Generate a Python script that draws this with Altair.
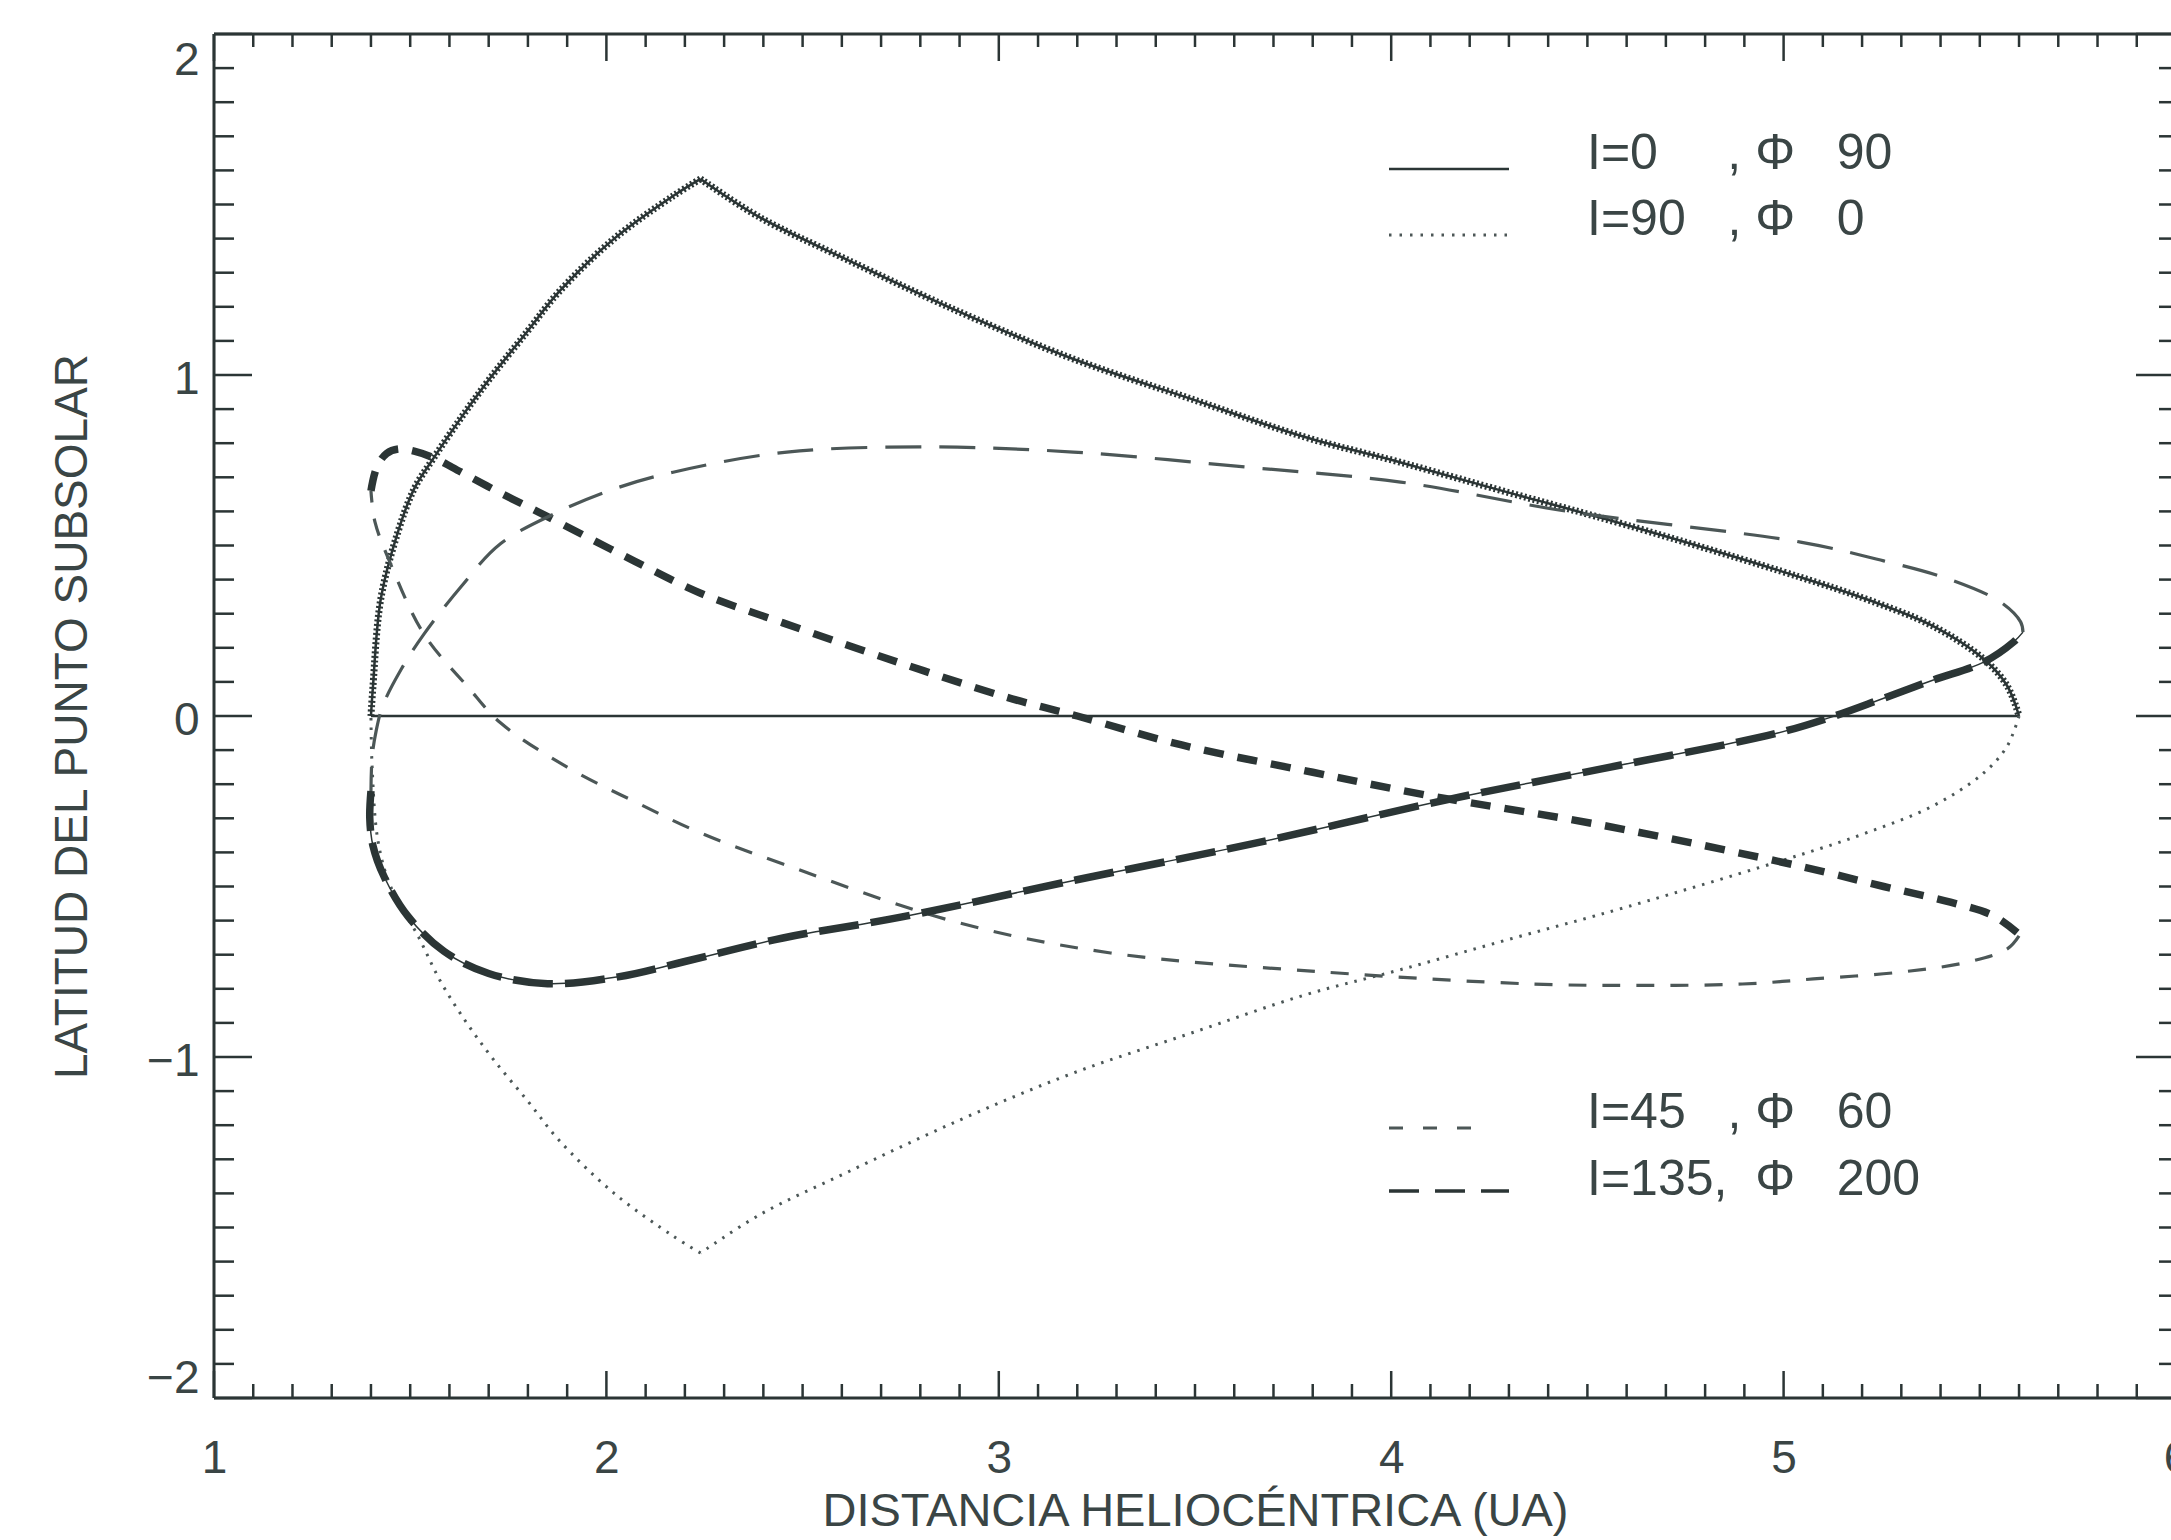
import altair as alt
import pandas as pd

NB = "\u00a0"  # non-collapsing space for legend text alignment

# ---------------------------------------------------------------- text
X_TITLE = "DISTANCIA HELIOCÉNTRICA (UA)"
Y_TITLE = "LATITUD DEL PUNTO SUBSOLAR"
X_LABELS = [1, 2, 3, 4, 5, 6]
Y_LABELS = [-2, -1, 0, 1, 2]
LEGEND_LABELS = [
    "I=0" + NB * 5 + "," + NB + "Φ" + NB * 3 + "90",
    "I=90" + NB * 3 + "," + NB + "Φ" + NB * 3 + "0",
    "I=45" + NB * 3 + "," + NB + "Φ" + NB * 3 + "60",
    "I=135," + NB * 2 + "Φ" + NB * 3 + "200",
]

# ---------------------------------------------------------------- curves
# I=0, Φ=90
I0_X = [1.40, 5.60]
I0_Y = [0.0, 0.0]

# I=90, Φ=0 : first half of the orbit (heavy), up to the cusp and back down
I90_A_X = [1.40, 1.405, 1.425, 1.468, 1.51, 1.56, 1.63, 1.70, 1.80, 1.88, 2.02, 2.17, 2.24]
I90_A_Y = [0.0, 0.085, 0.343, 0.537, 0.666, 0.757, 0.875, 0.985, 1.13, 1.245, 1.40, 1.525, 1.575]
I90_B_X = [2.24, 2.39, 2.61, 2.90, 3.19, 3.49, 3.78, 4.02, 4.30, 4.60, 5.04, 5.21, 5.38, 5.51, 5.57, 5.60]
I90_B_Y = [1.575, 1.463, 1.34, 1.185, 1.047, 0.93, 0.818, 0.745, 0.655, 0.56, 0.408, 0.343, 0.264, 0.167, 0.088, 0.0]
# I=90, Φ=0 : second half (light dots)
I90_C_X = [5.60, 5.57, 5.51, 5.38, 5.21, 5.04, 4.60, 4.30, 4.02, 3.78, 3.49, 3.19, 2.90, 2.61, 2.39, 2.24]
I90_C_Y = [0.0, -0.088, -0.167, -0.264, -0.343, -0.408, -0.56, -0.655, -0.745, -0.818, -0.93, -1.047, -1.185, -1.34, -1.463, -1.575]
I90_D_X = [2.24, 2.17, 2.02, 1.88, 1.80, 1.714, 1.647, 1.578, 1.52, 1.45, 1.418, 1.403, 1.40]
I90_D_Y = [-1.575, -1.525, -1.40, -1.245, -1.13, -1.01, -0.905, -0.78, -0.645, -0.50, -0.367, -0.15, 0.0]

# I=45, Φ=60
I45_A_X = [1.40, 1.415, 1.44, 1.47, 1.51, 1.56, 1.63, 1.72, 1.815, 1.90, 2.07, 2.24, 2.45, 2.75,
           3.02, 3.20, 3.466, 3.80, 4.09, 4.536, 5.04, 5.255, 5.425, 5.535, 5.60]
I45_A_Y = [0.66, 0.73, 0.77, 0.783, 0.777, 0.757, 0.715, 0.66, 0.605, 0.555, 0.455, 0.36, 0.273, 0.155,
           0.055, 0.0, -0.085, -0.165, -0.232, -0.32, -0.44, -0.50, -0.546, -0.586, -0.64]
I45_B_X = [5.60, 5.57, 5.468, 5.298, 5.076, 4.895, 4.62, 4.36, 3.82, 3.285, 2.89, 2.45, 2.24, 2.07,
           1.90, 1.73, 1.647, 1.535, 1.45, 1.41, 1.40]
I45_B_Y = [-0.645, -0.683, -0.722, -0.751, -0.771, -0.786, -0.79, -0.786, -0.75, -0.695, -0.604, -0.434,
           -0.343, -0.25, -0.15, -0.02, 0.085, 0.24, 0.446, 0.57, 0.66]

# I=135, Φ=200
I135_A_X = [1.40, 1.397, 1.405, 1.433, 1.494, 1.586, 1.70, 1.85, 2.03, 2.20, 2.45, 2.75, 3.196,
            3.645, 4.144, 4.536, 4.985, 5.13, 5.25, 5.38, 5.51, 5.586, 5.61]
I135_A_Y = [-0.22, -0.30, -0.38, -0.47, -0.587, -0.69, -0.755, -0.785, -0.765, -0.72, -0.651, -0.59,
            -0.481, -0.375, -0.245, -0.155, -0.05, 0.0, 0.05, 0.105, 0.158, 0.217, 0.246]
I135_B_X = [5.61, 5.604, 5.553, 5.425, 5.255, 5.043, 4.45, 4.024, 3.63, 3.19, 2.827, 2.46, 2.17,
            2.02, 1.876, 1.73, 1.63, 1.535, 1.476, 1.43, 1.413, 1.403, 1.40]
I135_B_Y = [0.246, 0.276, 0.334, 0.40, 0.455, 0.51, 0.60, 0.686, 0.73, 0.774, 0.789, 0.774, 0.715,
            0.666, 0.598, 0.505, 0.38, 0.24, 0.135, 0.03, -0.045, -0.12, -0.22]

# ---------------------------------------------------------------- layout / style
FONT = "Liberation Sans"
INK = "#2b3535"
INK_LIGHT = "#4c5757"
TEXT = "#3a4545"

PLOT_W = 1957      # visible width of the data rectangle
X_SPAN = 1962      # pixel span of x = 1..6 (right frame falls just off the page)
PLOT_H = 1364

XSCALE = alt.Scale(domain=[1, 6], range=[0, X_SPAN], nice=False)
YSCALE = alt.Scale(domain=[-2, 2], nice=False)

X_AXIS = alt.Axis(values=X_LABELS, ticks=False, tickSize=0, domain=False, grid=False,
                  labelFlush=False, labelFont=FONT, labelFontSize=46, labelColor=TEXT,
                  labelPadding=38, titleFont=FONT, titleFontSize=47, titleFontWeight="normal",
                  titleColor=TEXT, titleBaseline="alphabetic", titleY=127)
Y_AXIS = alt.Axis(values=Y_LABELS, ticks=False, tickSize=0, domain=False, grid=False,
                  labelFlush=True, labelFont=FONT, labelFontSize=46, labelColor=TEXT,
                  labelPadding=15, labelOffset=4, titleFont=FONT, titleFontSize=46,
                  titleFontWeight="normal", titleColor=TEXT, titleBaseline="alphabetic",
                  titleX=-128)


def X(field):
    return alt.X(field, type="quantitative", scale=XSCALE, axis=X_AXIS, title=X_TITLE)


def Y(field):
    return alt.Y(field, type="quantitative", scale=YSCALE, axis=Y_AXIS, title=Y_TITLE)


def branch(xs, ys):
    return pd.DataFrame({"x": xs, "y": ys, "i": list(range(len(xs)))})


def curve(xs, ys, color, width, dash=None, interp="catmull-rom"):
    kw = dict(color=color, strokeWidth=width, interpolate=interp)
    if dash:
        kw["strokeDash"] = dash
    return alt.Chart(branch(xs, ys)).mark_line(**kw).encode(
        x=X("x"), y=Y("y"), order=alt.Order("i:Q"))


layers = []

# frame: left, top, bottom (right edge sits just past the page)
frame_v = pd.DataFrame({"x": [1, 6], "y": [-2, -2], "y2": [2, 2]})
frame_h = pd.DataFrame({"y": [-2, 2], "x": [1, 1], "x2": [6, 6]})
layers.append(alt.Chart(frame_v).mark_rule(color=INK, strokeWidth=3).encode(
    x=X("x"), y=Y("y"), y2="y2"))
layers.append(alt.Chart(frame_h).mark_rule(color=INK, strokeWidth=3).encode(
    x=X("x"), x2="x2", y=Y("y")))

# inward ticks: minor every 0.1, major on integers
x_minor = [round(1 + 0.1 * k, 1) for k in range(51) if k % 10]
y_minor = [round(-2 + 0.1 * k, 1) for k in range(41) if k % 10]
tick_specs = [
    (pd.DataFrame({"x": x_minor}), "x", PLOT_H, PLOT_H - 14),
    (pd.DataFrame({"x": X_LABELS}), "x", PLOT_H, PLOT_H - 27),
    (pd.DataFrame({"x": x_minor}), "x", 0, 13),
    (pd.DataFrame({"x": X_LABELS}), "x", 0, 27),
    (pd.DataFrame({"y": y_minor}), "y", 0, 20),
    (pd.DataFrame({"y": Y_LABELS}), "y", 0, 38),
    (pd.DataFrame({"y": y_minor}), "y", X_SPAN, X_SPAN - 17),
    (pd.DataFrame({"y": Y_LABELS}), "y", X_SPAN, X_SPAN - 40),
]
for df, ch, a, b in tick_specs:
    base = alt.Chart(df).mark_rule(color=INK, strokeWidth=2.5)
    if ch == "x":
        layers.append(base.encode(x=X("x"), y=alt.value(a), y2=alt.value(b)))
    else:
        layers.append(base.encode(y=Y("y"), x=alt.value(a), x2=alt.value(b)))

# curves
layers += [
    curve(I0_X, I0_Y, INK, 2.5, interp="linear"),
    # I=90 : heavy dotted going out, light dots coming back
    curve(I90_A_X, I90_A_Y, INK, 2.5),
    curve(I90_A_X, I90_A_Y, INK, 7, [2, 2.5]),
    curve(I90_B_X, I90_B_Y, INK, 2.5),
    curve(I90_B_X, I90_B_Y, INK, 7, [2, 2.5]),
    curve(I90_C_X, I90_C_Y, INK_LIGHT, 3, [2.5, 7]),
    curve(I90_D_X, I90_D_Y, INK_LIGHT, 3, [2.5, 7]),
    # I=45 : short dashes
    curve(I45_A_X, I45_A_Y, INK, 7.5, [20, 14]),
    curve(I45_B_X, I45_B_Y, INK_LIGHT, 3.2, [18, 16]),
    # I=135 : long dashes
    curve(I135_A_X, I135_A_Y, INK, 1.5),
    curve(I135_A_X, I135_A_Y, INK, 7.5, [40, 12]),
    curve(I135_B_X, I135_B_Y, INK_LIGHT, 3.2, [36, 18]),
]

# legend: sample strokes and labels (pixel positions inside the plot area)
legend_rows = [
    (135, 1295, None, 2.5, INK),
    (201, 1295, [2.5, 8], 3, INK_LIGHT),
    (1094, 1274, [14, 20], 3.2, INK_LIGHT),
    (1157, 1295, [30, 16], 3.5, INK),
]
for k, (yy, x_end, dash, w, col) in enumerate(legend_rows):
    kw = dict(color=col, strokeWidth=w)
    if dash:
        kw["strokeDash"] = dash
    lab = pd.DataFrame({"label": [LEGEND_LABELS[k]]})
    layers.append(alt.Chart(lab).mark_rule(**kw).encode(
        x=alt.value(1175), x2=alt.value(x_end), y=alt.value(yy)))
text_y = [135, 201, 1094, 1161]
for k, ty in enumerate(text_y):
    lab = pd.DataFrame({"label": [LEGEND_LABELS[k]]})
    layers.append(alt.Chart(lab).mark_text(
        align="left", baseline="alphabetic", font=FONT, fontSize=50, color=TEXT
    ).encode(x=alt.value(1373), y=alt.value(ty), text="label:N"))

chart = alt.layer(*layers).properties(
    width=PLOT_W,
    height=PLOT_H,
    padding={"left": 214, "top": 34, "right": 0, "bottom": 142},
    autosize=alt.AutoSizeParams(type="none"),
    background="white",
).configure_view(strokeWidth=0)

chart.save("out.html", embed_options={"renderer": "svg", "actions": False})
